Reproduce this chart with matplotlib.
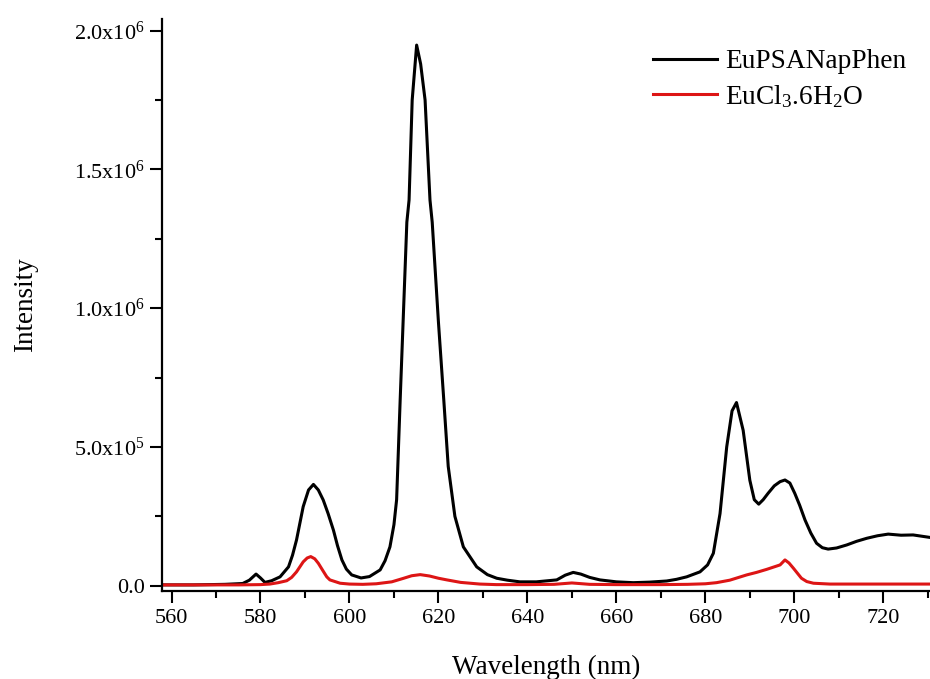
import matplotlib
matplotlib.use("Agg")
import matplotlib.pyplot as plt
from matplotlib.ticker import FixedLocator, MultipleLocator, FixedFormatter

plt.rcParams['font.family'] = ['Liberation Serif', 'DejaVu Serif']
plt.rcParams['mathtext.fontset'] = 'custom'
plt.rcParams['mathtext.rm'] = 'Liberation Serif'
plt.rcParams['mathtext.it'] = 'Liberation Serif:italic'

# EuPSANapPhen (black)
eu_wl = [558, 565, 572, 576, 577.5, 579.0, 580.0, 581.0, 582.5, 584.4, 586.3, 587.2, 588.1,
         589.6, 590.8, 591.9, 593.0, 594.1, 595.2, 596.4, 597.3, 598.3, 599.3, 600.5, 602.6,
         604.5, 606.9, 608.0, 609.1, 610.0, 610.6, 611.4, 612.9, 613.4, 614.1, 615.1, 616.0,
         617.0, 618.1, 618.6, 620.0, 621.2, 622.2, 623.7, 625.6, 628.6, 631.0, 633.1, 635.5,
         638.3, 642, 646.6, 648.5, 650.3, 652, 654, 656.3, 660, 663.8, 667.5, 671.3, 673.5,
         675.8, 678.8, 680.5, 681.8, 683.3, 684.8, 686.0, 687.0, 688.5, 690.0, 691.0, 692.0,
         693.0, 694.1, 695.5, 696.8, 697.9, 699.0, 700.1, 701.2, 702.4, 703.7, 705.0, 706.3,
         707.6, 709.5, 711.8, 714, 716.3, 718.7, 721.1, 724, 726.7, 730.5]
eu_int = [0.003, 0.003, 0.005, 0.008, 0.02, 0.042, 0.028, 0.012, 0.018, 0.032, 0.068, 0.11, 0.165,
          0.285, 0.345, 0.365, 0.345, 0.309, 0.26, 0.2, 0.145, 0.093, 0.06, 0.039, 0.028,
          0.033, 0.057, 0.09, 0.14, 0.22, 0.31, 0.67, 1.31, 1.39, 1.75, 1.948, 1.88,
          1.75, 1.39, 1.31, 0.95, 0.67, 0.43, 0.25, 0.14, 0.068, 0.04, 0.027, 0.02,
          0.014, 0.014, 0.021, 0.038, 0.048, 0.042, 0.03, 0.021, 0.014, 0.011, 0.013, 0.017, 0.023,
          0.032, 0.05, 0.075, 0.117, 0.26, 0.5, 0.63, 0.66, 0.56, 0.38, 0.31, 0.294,
          0.31, 0.333, 0.36, 0.375, 0.381, 0.37, 0.333, 0.29, 0.237, 0.19, 0.153, 0.137,
          0.132, 0.136, 0.147, 0.16, 0.171, 0.18, 0.186, 0.182, 0.183, 0.174]

# EuCl3.6H2O (red)
cl_wl = [558, 575, 580, 582.1, 584, 585.9, 587, 588.1, 589.6, 590.5, 591.3, 592.2, 593.0, 594.0,
         594.9, 595.6, 597.9, 600, 603, 606, 609.5, 612, 614, 615.9, 618, 620, 621.9, 625,
         629.3, 633, 640, 646, 650, 654, 660, 670, 676, 680, 682.5, 685.5, 689.3, 691.5,
         693.8, 696.8, 697.9, 698.8, 699.8, 701.6, 702.8, 704.3, 708, 720, 730.5]
cl_int = [0.003, 0.003, 0.004, 0.006, 0.011, 0.018, 0.03, 0.05, 0.086, 0.1, 0.105, 0.097, 0.081, 0.055,
          0.032, 0.021, 0.009, 0.006, 0.005, 0.007, 0.014, 0.026, 0.036, 0.04, 0.035, 0.027, 0.021, 0.012,
          0.006, 0.004, 0.004, 0.005, 0.01, 0.005, 0.004, 0.004, 0.005, 0.007, 0.011, 0.02, 0.039, 0.048,
          0.059, 0.075, 0.093, 0.082, 0.063, 0.027, 0.015, 0.009, 0.006, 0.006, 0.006]

y_ticks = [0.0, 0.5e6, 1.0e6, 1.5e6, 2.0e6]
y_tick_labels = ['0.0', r'5.0x10$^{5}$', r'1.0x10$^{6}$', r'1.5x10$^{6}$', r'2.0x10$^{6}$']
x_ticks = [560, 580, 600, 620, 640, 660, 680, 700, 720]

fig = plt.figure(figsize=(9.30, 6.79), dpi=100)
ax = fig.add_axes([162/930, 88/679, 1 - 162/930, (591-19)/679])

ax.plot(eu_wl, [v * 1e6 for v in eu_int], color='black', lw=2.2, label='EuPSANapPhen')
ax.plot(cl_wl, [v * 1e6 for v in cl_int], color='#dd1515', lw=2.2, label=r'EuCl$_{3}$.6H$_{2}$O')

ax.set_xlim(557.86, 730.5)
ax.set_ylim(-0.019e6, 2.042e6)

for s in ['top', 'right']:
    ax.spines[s].set_visible(False)
for s in ['left', 'bottom']:
    ax.spines[s].set_linewidth(1.6)

ax.xaxis.set_major_locator(FixedLocator(x_ticks))
ax.xaxis.set_minor_locator(MultipleLocator(10))
ax.yaxis.set_major_locator(FixedLocator(y_ticks))
ax.yaxis.set_major_formatter(FixedFormatter(y_tick_labels))
ax.yaxis.set_minor_locator(MultipleLocator(0.25e6))

ax.tick_params(which='major', length=8.5, width=1.5, labelsize=16, direction='out')
ax.tick_params(which='minor', length=5, width=1.5, direction='out')
ax.tick_params(axis='x', which='major', pad=4.5)
ax.tick_params(axis='y', which='major', pad=4)

ax.set_xlabel('Wavelength (nm)', fontsize=19.5, labelpad=19)
ax.set_ylabel('Intensity', fontsize=19.5, labelpad=26)

leg = ax.legend(loc='upper left', bbox_to_anchor=((642 - 162) / 768, 1.0 - (38 - 19) / 572),
                frameon=False, fontsize=19.7, handlelength=2.35, handletextpad=0.3,
                labelspacing=0.32, borderaxespad=0)

fig.savefig('out.png', dpi=100)
